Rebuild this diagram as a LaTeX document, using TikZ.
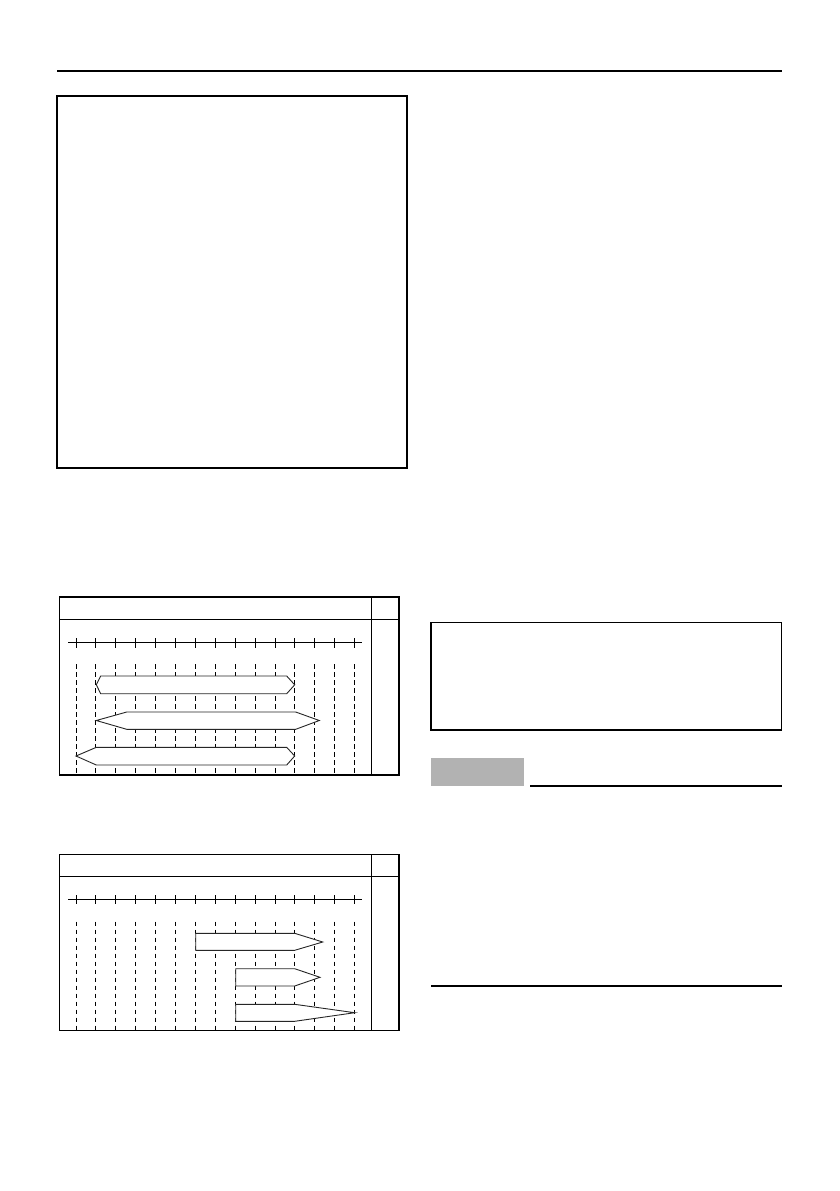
\documentclass[tikz,border=0pt]{standalone}
\begin{document}
\begin{tikzpicture}[x=1pt,y=-1pt,
  frame/.style={draw=black,line width=1.1pt},
  thickrule/.style={draw=black,line width=2.4pt},
  axisline/.style={draw=black,line width=0.9pt},
  grid/.style={draw=black,line width=1pt,dash pattern=on 4.5pt off 3.5pt},
  bar/.style={draw=black!85,line width=0.9pt,fill=white,line join=miter}]
\useasboundingbox (0,0) rectangle (839,1191);
% header rule
\draw[thickrule] (57,71) -- (782,71);
% top-left box
\draw[frame] (57,96) rectangle (407,468);
\draw[line width=1pt] (57.5,96) -- (57.5,468);
% right box
\draw[frame] (431,622.5) rectangle (781.5,730);
\draw[line width=1pt] (431.5,622.5) -- (431.5,730);
% gray label box and rules
\fill[black!30] (431,758) rectangle (524,786);
\draw[thickrule,line width=2pt] (530,786) -- (782,786);
\draw[thickrule,line width=2pt] (431,986) -- (782,986);

% ---------- chart 1 ----------
\draw[frame] (59.5,597) rectangle (399,775);
\draw[line width=1.6pt] (59.5,775) -- (399,775);
\draw[frame] (371.7,597) -- (371.7,775);
\draw[frame] (59.5,619.5) -- (399,619.5);
\draw[axisline] (68,642.5) -- (362,642.5);
\foreach \i in {0,...,14} {
  \pgfmathsetmacro\xx{76+19.9*\i}
  \draw[axisline] (\xx,638) -- (\xx,647.5);
  \draw[grid] (\xx,664) -- (\xx,774);
}
\draw[bar] (100.7,676) -- (286.7,676) -- (294.7,684.8) -- (286.7,693.7) -- (100.7,693.7) -- (96.3,684.8) -- cycle;
\draw[bar] (126.7,712) -- (295.7,712) -- (319.3,720.5) -- (295.7,729.3) -- (126.7,729.3) -- (96.3,720.5) -- cycle;
\draw[bar] (96.3,747.3) -- (286.7,747.3) -- (294.7,756) -- (286.7,765) -- (96.3,765) -- (76,756) -- cycle;

% ---------- chart 2 ----------
\draw[frame] (59.5,854.5) rectangle (399,1030.7);
\draw[line width=1.8pt] (59.5,854.5) -- (399,854.5);
\draw[frame] (371.7,854.5) -- (371.7,1030.7);
\draw[frame] (59.5,876.7) -- (399,876.7);
\draw[axisline] (68,899) -- (362,899);
\foreach \i in {0,...,14} {
  \pgfmathsetmacro\xx{76+19.9*\i}
  \draw[axisline] (\xx,895) -- (\xx,903.5);
  \draw[grid] (\xx,921.7) -- (\xx,1030);
}
\draw[bar] (195.7,933.3) -- (294.7,933.3) -- (322.7,942) -- (294.7,950.3) -- (195.7,950.3) -- cycle;
\draw[bar] (235.7,968.7) -- (294.7,968.7) -- (320,977.3) -- (294.7,986) -- (235.7,986) -- cycle;
\draw[bar] (235.7,1004.3) -- (294.7,1004.3) -- (354.7,1012.7) -- (294.7,1021.3) -- (235.7,1021.3) -- cycle;
\end{tikzpicture}
\end{document}
